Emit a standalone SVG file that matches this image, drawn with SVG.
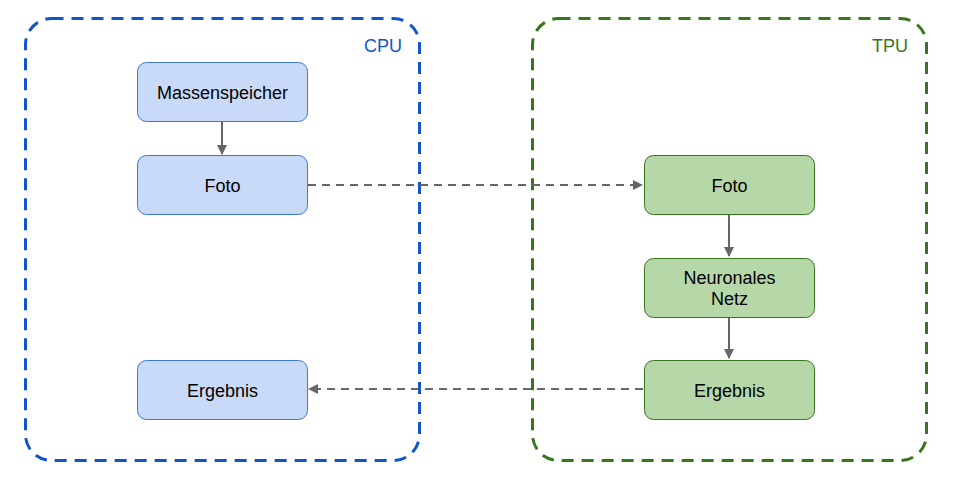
<svg xmlns="http://www.w3.org/2000/svg" width="959" height="485" viewBox="0 0 959 485">
<style>
text{font-family:"Liberation Sans",Arial,sans-serif;}
.lbl{font-size:18px;fill:#000;text-anchor:middle;}
.cpu{fill:#c9daf8;stroke:#3c78d8;stroke-width:1;}
.tpu{fill:#b6d7a8;stroke:#38761d;stroke-width:1;}
.ctr{fill:none;stroke-width:3;stroke-dasharray:12,8;}
.edge{fill:none;stroke:#666666;stroke-width:2;}
.dash{stroke-dasharray:8,6;}
</style>
<defs>
<marker id="ah" viewBox="0 0 10 10" refX="9" refY="5" markerWidth="5" markerHeight="5" orient="auto" markerUnits="strokeWidth">
<path d="M0,0 L10,5 L0,10 z" fill="#666666"/>
</marker>
</defs>
<g id="cpu-container">
<rect class="ctr" x="25.5" y="18.5" width="394" height="442" rx="26" stroke="#1155cc"/>
<text x="402" y="52" font-size="18" fill="#1155cc" text-anchor="end">CPU</text>
</g>
<g id="tpu-container">
<rect class="ctr" x="532.5" y="18.5" width="394" height="442" rx="26" stroke="#38761d"/>
<text x="908" y="52" font-size="18" fill="#38761d" text-anchor="end">TPU</text>
</g>
<g id="connectors">
<line class="edge" x1="222" y1="121" x2="222" y2="154" marker-end="url(#ah)"/>
<line class="edge dash" x1="308" y1="185" x2="642" y2="185" marker-end="url(#ah)"/>
<line class="edge" x1="729" y1="215" x2="729" y2="256" marker-end="url(#ah)"/>
<line class="edge" x1="729" y1="318" x2="729" y2="358" marker-end="url(#ah)"/>
<line class="edge dash" x1="643" y1="389" x2="309" y2="389" marker-end="url(#ah)"/>
</g>
<g id="massenspeicher">
<rect class="cpu" x="137.5" y="62.5" width="170" height="59" rx="9"/>
<text class="lbl" x="222.5" y="98.5">Massenspeicher</text>
</g>
<g id="foto-cpu">
<rect class="cpu" x="137.5" y="155.5" width="170" height="59" rx="9"/>
<text class="lbl" x="222.5" y="191.5">Foto</text>
</g>
<g id="ergebnis-cpu">
<rect class="cpu" x="137.5" y="360.5" width="170" height="59" rx="9"/>
<text class="lbl" x="222.5" y="396.5">Ergebnis</text>
</g>
<g id="foto-tpu">
<rect class="tpu" x="644.5" y="155.5" width="170" height="59" rx="9"/>
<text class="lbl" x="729.5" y="191.5">Foto</text>
</g>
<g id="neuronales-netz">
<rect class="tpu" x="644.5" y="258.5" width="170" height="59" rx="9"/>
<text class="lbl" x="729.5" y="283.5">Neuronales</text>
<text class="lbl" x="729.5" y="305">Netz</text>
</g>
<g id="ergebnis-tpu">
<rect class="tpu" x="644.5" y="360.5" width="170" height="59" rx="9"/>
<text class="lbl" x="729.5" y="396.5">Ergebnis</text>
</g>
</svg>
